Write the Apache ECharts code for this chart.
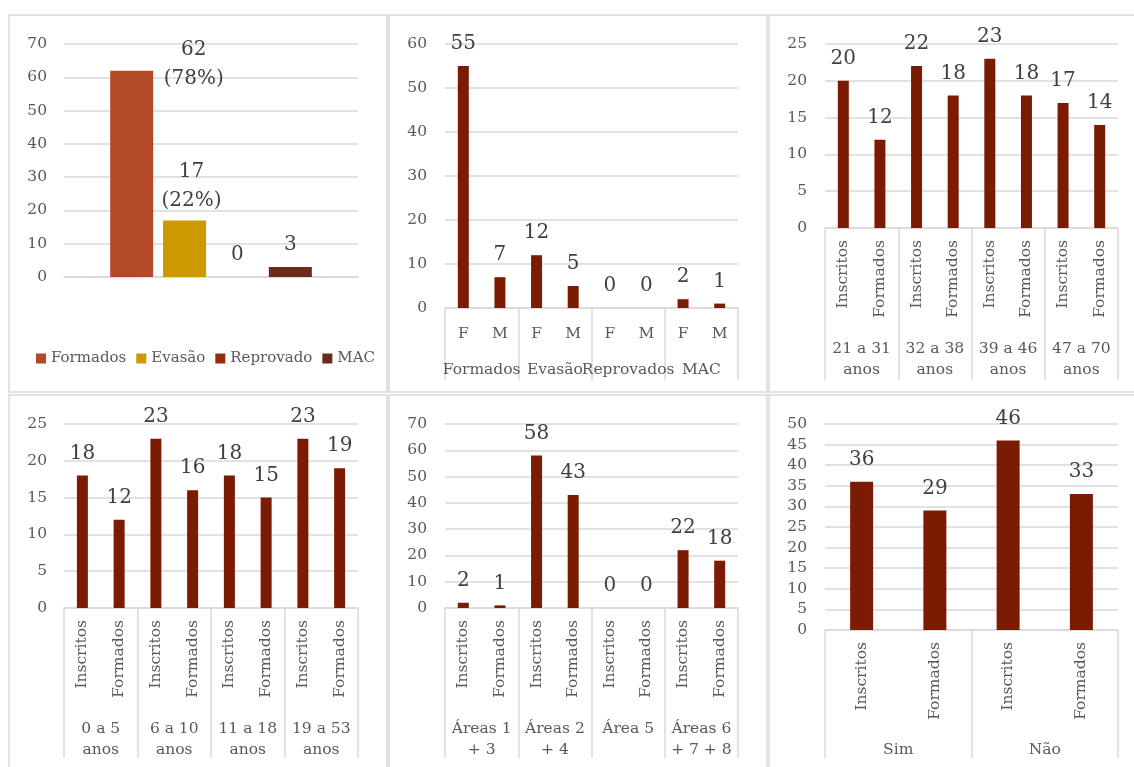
<!DOCTYPE html>
<html>
<head>
<meta charset="utf-8">
<script src="https://cdn.jsdelivr.net/npm/echarts@6/dist/echarts.min.js"></script>
<style>
html,body{margin:0;padding:0;background:#fff;}
#c{width:1134px;height:767px;}
</style>
</head>
<body>
<div id="c"></div>
<script>
// ---- Data ----
const p1Names = ['Formados', 'Evasão', 'Reprovado', 'MAC'];
const p1Values = [62, 17, 0, 3];
const p1Pct = ['78%', '22%', '', ''];

const p2Sub = ['F', 'M', 'F', 'M', 'F', 'M', 'F', 'M'];
const p2Groups = ['Formados', 'Evasão', 'Reprovados', 'MAC'];
const p2Values = [55, 7, 12, 5, 0, 0, 2, 1];

const subIF = ['Inscritos', 'Formados'];
const p3Groups = ['21 a 31\nanos', '32 a 38\nanos', '39 a 46\nanos', '47 a 70\nanos'];
const p3Values = [20, 12, 22, 18, 23, 18, 17, 14];

const p4Groups = ['0 a 5\nanos', '6 a 10\nanos', '11 a 18\nanos', '19 a 53\nanos'];
const p4Values = [18, 12, 23, 16, 18, 15, 23, 19];

const p5Groups = ['Áreas 1\n+ 3', 'Áreas 2\n+ 4', 'Área 5', 'Áreas 6\n+ 7 + 8'];
const p5Values = [2, 1, 58, 43, 0, 0, 22, 18];

const p6Groups = ['Sim', 'Não'];
const p6Values = [36, 29, 46, 33];

const p1Colors = ['#B4492A', '#CC9900', '#962B10', '#6B2A1A'];
const barColor = '#7B1C02';

// ---- Helpers ----
const FONT = 'DejaVu Serif';
const GRAY = '#595959';
const LINE = '#d9d9d9';

function repeatSub(sub, n) { const out = []; for (let i = 0; i < n; i++) out.push(...sub); return out; }

const chart = echarts.init(document.getElementById('c'), null, {renderer: 'canvas'});

const grids = [
  {left: 64, right: 776, top: 44, bottom: 490},
  {left: 445, right: 396, top: 44, bottom: 459},
  {left: 825, right: 16, top: 44, bottom: 539},
  {left: 64, right: 776, top: 424, bottom: 159},
  {left: 445, right: 396, top: 424, bottom: 159},
  {left: 825, right: 16, top: 424, bottom: 137}
];
const yCfg = [
  {max: 70, interval: 10, margin: 17},
  {max: 60, interval: 10, margin: 18},
  {max: 25, interval: 5, margin: 18},
  {max: 25, interval: 5, margin: 17},
  {max: 70, interval: 10, margin: 18},
  {max: 50, interval: 5, margin: 18}
];
const yAxes = yCfg.map((c, i) => ({
  type: 'value', gridIndex: i, min: 0, max: c.max, interval: c.interval,
  axisLine: {show: false}, axisTick: {show: false},
  axisLabel: {color: GRAY, fontFamily: FONT, fontSize: 15.5, margin: c.margin},
  splitLine: {lineStyle: {color: LINE, width: 1.5}}
}));

const xAxes = [];
const series = [];

// Panel 1: single category, four series
xAxes.push({
  type: 'category', gridIndex: 0, data: [''],
  axisLine: {lineStyle: {color: LINE, width: 1.5}}, axisTick: {show: false}, axisLabel: {show: false}
});
const labelBase = {show: true, position: 'top', distance: 10, color: '#404040', fontFamily: FONT, fontSize: 20, lineHeight: 24};
p1Names.forEach((n, i) => {
  const lbl = Object.assign({}, labelBase);
  if (p1Pct[i]) {
    lbl.formatter = '{c}\n(' + p1Pct[i] + ')';
    lbl.lineHeight = 29;
  }
  if (i === 0) lbl.offset = [62, 33];
  if (i === 1) lbl.offset = [7, 5];
  series.push({
    name: n, type: 'bar', xAxisIndex: 0, yAxisIndex: 0,
    data: [p1Values[i]], barWidth: 43, barGap: '23%',
    itemStyle: {color: p1Colors[i]}, label: lbl
  });
});

// Multi-level panels
const multi = [
  {g: 1, sub: p2Sub, groups: p2Groups, values: p2Values, rotate: 0, subMargin: 15, grpMargin: 51, tick: 72, barWidth: 11},
  {g: 2, sub: repeatSub(subIF, 4), groups: p3Groups, values: p3Values, rotate: 90, subMargin: 12, grpMargin: 110, tick: 152, barWidth: 11},
  {g: 3, sub: repeatSub(subIF, 4), groups: p4Groups, values: p4Values, rotate: 90, subMargin: 12, grpMargin: 110, tick: 150, barWidth: 11},
  {g: 4, sub: repeatSub(subIF, 4), groups: p5Groups, values: p5Values, rotate: 90, subMargin: 12, grpMargin: 110, tick: 150, barWidth: 11},
  {g: 5, sub: repeatSub(subIF, 2), groups: p6Groups, values: p6Values, rotate: 90, subMargin: 12, grpMargin: 109, tick: 128, barWidth: 23}
];
multi.forEach(m => {
  const subIdx = xAxes.length;
  xAxes.push({
    type: 'category', gridIndex: m.g, position: 'bottom', data: m.sub,
    axisLine: {show: false}, axisTick: {show: false},
    axisLabel: {interval: 0, rotate: m.rotate, color: GRAY, fontFamily: FONT, fontSize: 15.5, margin: m.subMargin, lineHeight: 21, hideOverlap: false}
  });
  xAxes.push({
    type: 'category', gridIndex: m.g, position: 'bottom', data: m.groups,
    axisLine: {show: true, lineStyle: {color: LINE, width: 1.5}},
    axisTick: {show: true, interval: 0, length: m.tick, lineStyle: {color: LINE, width: 1.5}},
    axisLabel: {interval: 0, color: GRAY, fontFamily: FONT, fontSize: 15.5, margin: m.grpMargin, lineHeight: 21, hideOverlap: false}
  });
  series.push({
    name: 'panel' + m.g, type: 'bar', xAxisIndex: subIdx, yAxisIndex: m.g,
    data: m.values, barWidth: m.barWidth,
    itemStyle: {color: barColor},
    label: Object.assign({}, labelBase)
  });
});

const borders = [
  [9, 15, 378, 377], [389, 15, 378, 377], [769, 15, 380, 377],
  [9, 395, 378, 380], [389, 395, 378, 380], [769, 395, 380, 380]
].map(r => ({
  type: 'rect', shape: {x: r[0], y: r[1], width: r[2], height: r[3]},
  style: {fill: 'none', stroke: LINE, lineWidth: 1.5}, silent: true, z: -1
}));

chart.setOption({
  animation: false,
  backgroundColor: '#fff',
  textStyle: {fontFamily: FONT},
  grid: grids,
  xAxis: xAxes,
  yAxis: yAxes,
  legend: {
    data: p1Names, left: 31, top: 346, icon: 'rect', itemWidth: 10, itemHeight: 10, itemGap: 10,
    textStyle: {color: GRAY, fontFamily: FONT, fontSize: 15}, selectedMode: false
  },
  graphic: borders,
  series: series
});
</script>
</body>
</html>
